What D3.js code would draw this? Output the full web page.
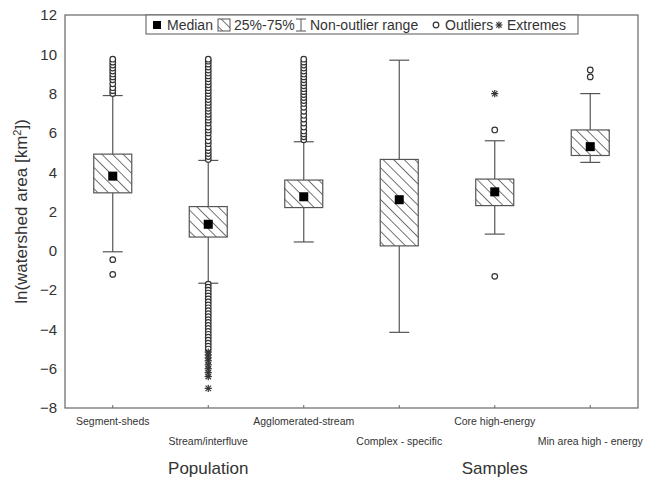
<!DOCTYPE html>
<html>
<head>
<meta charset="utf-8">
<script src="https://cdn.jsdelivr.net/npm/d3@7/dist/d3.min.js"></script>
<style>
body{margin:0;background:#fff;}
text{font-family:"Liberation Sans",Arial,sans-serif;fill:#333;}
</style>
</head>
<body>
<svg id="chart" width="645" height="481"></svg>
<script>
const categories = ["Segment-sheds","Stream/interfluve","Agglomerated-stream","Complex-specific","Core high-energy","Min area high-energy"];
const medians = [3.8, 1.35, 2.75, 2.6, 3.0, 5.3];
const q1 = [2.95, 0.7, 2.2, 0.25, 2.3, 4.85];
const q3 = [4.92, 2.25, 3.6, 4.65, 3.65, 6.15];
const whiskerLow = [-0.05, -1.65, 0.45, -4.15, 0.85, 4.5];
const whiskerHigh = [7.9, 4.6, 5.55, 9.7, 5.6, 8.0];
const outliers = [
  [8.0,8.15,8.3,8.5,8.7,8.85,9.0,9.15,9.3,9.45,9.6,9.75,-0.45,-1.2],
  [4.65,4.8,4.95,5.1,5.25,5.45,5.6,5.8,6.0,6.15,6.3,6.5,6.65,6.8,6.95,7.1,7.25,7.4,7.55,7.7,7.85,8.0,8.15,8.3,8.45,8.6,8.75,8.9,9.05,9.2,9.35,9.5,9.65,9.75,
   -1.7,-1.85,-2.0,-2.15,-2.3,-2.45,-2.6,-2.75,-2.9,-3.05,-3.2,-3.35,-3.5,-3.65,-3.8,-3.95,-4.1,-4.25,-4.4,-4.55,-4.7,-4.85,-5.0],
  [5.65,5.8,5.95,6.1,6.3,6.5,6.7,6.9,7.1,7.3,7.5,7.65,7.8,7.95,8.1,8.25,8.4,8.55,8.7,8.85,9.0,9.15,9.3,9.45,9.6,9.75],
  [],
  [6.15,-1.3],
  [8.85,9.2]
];
const extremes = [
  [],
  [-5.15,-5.3,-5.45,-5.6,-5.8,-6.0,-6.2,-6.4,-7.0],
  [],
  [],
  [8.0],
  []
];
const yTicks = [-8,-6,-4,-2,0,2,4,6,8,10,12];
const groupLabels = [{name:"Population", cats:[0,1,2]},{name:"Samples", cats:[3,4,5]}];

const svg = d3.select("#chart");
const margin = {left:65, right:7, top:15, bottom:73};
const W = 645, H = 481;
const x = d3.scaleBand().domain(categories).range([margin.left, W-margin.right]).padding(0);
const y = d3.scaleLinear().domain([-8,12]).range([H-margin.bottom, margin.top]);
const axisColor = "#666";
const lineColor = "#555";

// hatch pattern
const defs = svg.append("defs");
const pat = defs.append("pattern").attr("id","hatch").attr("patternUnits","userSpaceOnUse")
  .attr("width",7.5).attr("height",7.5).attr("patternTransform","rotate(-45)");
pat.append("rect").attr("width",7.5).attr("height",7.5).attr("fill","#fff");
pat.append("line").attr("x1",0).attr("y1",0).attr("x2",0).attr("y2",7.5).attr("stroke","#3a3a3a").attr("stroke-width",1.4);

// frame
svg.append("rect").attr("x",margin.left).attr("y",margin.top)
  .attr("width",W-margin.right-margin.left).attr("height",H-margin.bottom-margin.top)
  .attr("fill","none").attr("stroke",axisColor).attr("stroke-width",1.2);

// y axis
const yAxis = d3.axisLeft(y).tickValues(yTicks).tickSize(0).tickPadding(8);
const gy = svg.append("g").attr("transform",`translate(${margin.left},0)`).call(yAxis);
gy.select(".domain").remove();
gy.selectAll("text").style("font-size","15px").style("font-family","'Liberation Sans',Arial,sans-serif").attr("fill","#333");

// x axis ticks (inward) and labels
const xAxis = d3.axisTop(x).tickSize(3).tickFormat("");
const gx = svg.append("g").attr("transform",`translate(0,${H-margin.bottom})`).call(xAxis);
gx.select(".domain").remove();
gx.selectAll("line").attr("stroke",axisColor);
svg.selectAll(".catLabel").data(categories).enter().append("text")
  .attr("class","catLabel")
  .attr("x",d=>x(d)+x.bandwidth()/2)
  .attr("y",(d,i)=> i%2===0 ? 425 : 445)
  .attr("text-anchor","middle")
  .style("font-size","10.5px")
  .text(d=>d.replace("Complex-specific","Complex - specific").replace("Min area high-energy","Min area high - energy"));

// group labels
svg.selectAll(".grpLabel").data(groupLabels).enter().append("text")
  .attr("x",d=>{const c=categories[d.cats[1]]; return x(c)+x.bandwidth()/2;})
  .attr("y",474)
  .attr("text-anchor","middle")
  .style("font-size","17px")
  .text(d=>d.name);

// y title
const yt = svg.append("text").attr("transform",`translate(27,${(margin.top+H-margin.bottom)/2}) rotate(-90)`)
  .attr("text-anchor","middle").style("font-size","17px");
yt.append("tspan").text("ln(watershed area [km");
yt.append("tspan").text("2").attr("dy",-6).style("font-size","11px");
yt.append("tspan").text("])").attr("dy",6);

const boxW = 38, capW = 20;
function star(sel, cx, sy, s){
  const st = sel.append("g").attr("stroke","#333").attr("stroke-width",1.2);
  st.append("line").attr("x1",cx-s).attr("x2",cx+s).attr("y1",sy).attr("y2",sy);
  st.append("line").attr("x1",cx).attr("x2",cx).attr("y1",sy-s).attr("y2",sy+s);
  st.append("line").attr("x1",cx-s*0.75).attr("x2",cx+s*0.75).attr("y1",sy-s*0.75).attr("y2",sy+s*0.75);
  st.append("line").attr("x1",cx-s*0.75).attr("x2",cx+s*0.75).attr("y1",sy+s*0.75).attr("y2",sy-s*0.75);
}
const g = svg.append("g");
categories.forEach((c,i)=>{
  const cx = x(c)+x.bandwidth()/2;
  g.append("line").attr("x1",cx).attr("x2",cx).attr("y1",y(whiskerHigh[i])).attr("y2",y(q3[i])).attr("stroke",lineColor).attr("stroke-width",1.2);
  g.append("line").attr("x1",cx).attr("x2",cx).attr("y1",y(q1[i])).attr("y2",y(whiskerLow[i])).attr("stroke",lineColor).attr("stroke-width",1.2);
  [whiskerHigh[i],whiskerLow[i]].forEach(v=>{
    g.append("line").attr("x1",cx-capW/2).attr("x2",cx+capW/2).attr("y1",y(v)).attr("y2",y(v)).attr("stroke",lineColor).attr("stroke-width",1.2);
  });
  g.append("rect").attr("x",cx-boxW/2).attr("y",y(q3[i])).attr("width",boxW).attr("height",y(q1[i])-y(q3[i]))
    .attr("fill","url(#hatch)").attr("stroke",lineColor).attr("stroke-width",1.2);
  g.append("rect").attr("x",cx-4.5).attr("y",y(medians[i])-4.5).attr("width",9).attr("height",9).attr("fill","#000");
  g.selectAll(null).data(outliers[i]).enter().append("circle")
    .attr("cx",cx).attr("cy",d=>y(d)).attr("r",2.8).attr("fill","#fff").attr("stroke","#333").attr("stroke-width",1.2);
  extremes[i].forEach(v=> star(g, cx, y(v), 3.6));
});

// legend
const lg = svg.append("g");
lg.append("rect").attr("x",146).attr("y",15).attr("width",432).attr("height",19).attr("fill","#fff").attr("stroke",axisColor).attr("stroke-width",1.1);
const ly = 25;
lg.append("rect").attr("x",153).attr("y",ly-4).attr("width",8).attr("height",8).attr("fill","#000");
lg.append("text").attr("x",167).attr("y",ly+5).style("font-size","14px").text("Median");
lg.append("rect").attr("x",218).attr("y",ly-6).attr("width",12).attr("height",12).attr("fill","url(#hatch)").attr("stroke",lineColor);
lg.append("text").attr("x",234).attr("y",ly+5).style("font-size","14px").text("25%-75%");
const wx = 301;
lg.append("line").attr("x1",wx).attr("x2",wx).attr("y1",ly-6).attr("y2",ly+6).attr("stroke",lineColor);
lg.append("line").attr("x1",wx-5).attr("x2",wx+5).attr("y1",ly-6).attr("y2",ly-6).attr("stroke",lineColor);
lg.append("line").attr("x1",wx-5).attr("x2",wx+5).attr("y1",ly+6).attr("y2",ly+6).attr("stroke",lineColor);
lg.append("text").attr("x",310).attr("y",ly+5).style("font-size","14px").text("Non-outlier range");
lg.append("circle").attr("cx",436).attr("cy",ly).attr("r",2.8).attr("fill","#fff").attr("stroke","#333").attr("stroke-width",1.2);
lg.append("text").attr("x",445).attr("y",ly+5).style("font-size","14px").text("Outliers");
star(lg, 499, ly, 3.4);
lg.append("text").attr("x",507).attr("y",ly+5).style("font-size","14px").text("Extremes");
</script>
</body>
</html>
